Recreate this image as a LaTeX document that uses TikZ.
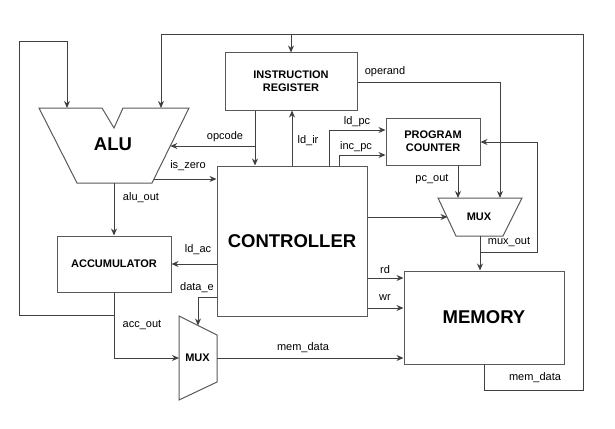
\documentclass[tikz,border=0pt]{standalone}
\usepackage{fontspec}
\setmainfont{Liberation Sans}
\usetikzlibrary{arrows.meta}
\tikzset{
  wire/.style={line width=1pt, draw=black!75},
  arr/.style={wire, -{Stealth[length=7pt,width=6pt]}},
  bloque/.style={draw=black!65, line width=1pt, fill=white, align=center,
    font=\fontsize{11}{13}\selectfont\bfseries},
  lbl/.style={font=\fontsize{11}{13}\selectfont, inner sep=0pt},
  grande/.style={font=\fontsize{18.5}{20}\selectfont\bfseries, inner sep=0pt},
  chico/.style={font=\fontsize{11}{13}\selectfont\bfseries, inner sep=0pt},
}
\begin{document}
\begin{tikzpicture}[x=1pt, y=-1pt]
\useasboundingbox (0,0) rectangle (615,428);

% Bloques rectangulares
\node[bloque, minimum width=132pt, minimum height=57pt] (ir) at (291,81.5) {INSTRUCTION\\REGISTER};
\node[bloque, minimum width=94pt, minimum height=47pt] (pc) at (433,141.5) {PROGRAM\\COUNTER};
\node[bloque, minimum width=150pt, minimum height=150pt] (ctrl) at (292,241) {};
\node[grande] at (ctrl.center) {CONTROLLER};
\node[bloque, minimum width=114pt, minimum height=56pt] (acc) at (114,264) {ACCUMULATOR};
\node[bloque, minimum width=160pt, minimum height=93pt] (mem) at (484,317.5) {};
\node[grande] at (mem.center) {MEMORY};

% ALU con muesca
\draw[draw=black!65, line width=1pt] (39,108) -- (102,108) -- (114,128) -- (123,108) -- (189,108)
  -- (152,183) -- (77,183) -- cycle;
\node[grande] (alu) at (113,144) {ALU};
\coordinate (alu-a) at (67,108);
\coordinate (alu-b) at (161,108);
\coordinate (alu-op) at (170.3,146);
\coordinate (alu-z) at (154,179);
\coordinate (alu-out) at (114,183);

% MUX superior
\draw[draw=black!65, line width=1pt] (438,198) -- (522,198) -- (503,236) -- (456,236) -- cycle;
\node[chico] (mux2) at (479,217) {MUX};
\coordinate (mux2-a) at (458,198);
\coordinate (mux2-b) at (500,198);
\coordinate (mux2-s) at (447.5,217);
\coordinate (mux2-o) at (480,236);

% MUX inferior
\draw[draw=black!65, line width=1pt] (179,316) -- (217,335) -- (217,382) -- (179,400) -- cycle;
\node[chico] (mux1) at (197.5,358) {MUX};
\coordinate (mux1-a) at (179,358);
\coordinate (mux1-s) at (198,325.5);
\coordinate (mux1-o) at (217,358);

% Bus de datos de memoria y realimentaciones
\draw[arr] (mem.south) -- ++(0,26) -| (583,35) -| (alu-b);
\draw[arr] (ir.north |- 0,35) -- (ir.north);
\draw[arr] (acc.south) -- ++(0,23) -| (19,42) -| (alu-a);
\draw[arr] (acc.south) |- (mux1-a);
\draw[arr] (mux1-o) -- (mem.west |- mux1-o);

% ALU y acumulador
\draw[arr] (alu-out) -- (acc.north);
\draw[arr] (alu-z) -- (ctrl.west |- alu-z);
\draw[arr] (acc.east -| ctrl.west) -- (acc.east);
\draw[arr] (ctrl.west |- 0,297) -| (mux1-s);

% Registro de instruccion
\coordinate (op-j) at (255,146);
\draw[arr] (ir.south -| op-j) -- (ctrl.north -| op-j);
\draw[arr] (op-j) -- (alu-op);
\draw[arr] (ctrl.north) -- (ctrl.north |- ir.south);
\draw[arr] (ir.east |- 0,82) -| (mux2-b);

% Contador de programa
\draw[arr] (ctrl.north -| 329,0) |- (pc.west |- 0,130);
\draw[arr] (ctrl.north -| 339,0) |- (pc.west |- 0,155);
\draw[arr] (pc.south -| mux2-a) -- (mux2-a);
\draw[arr] (ctrl.east |- mux2-s) -- (mux2-s);
\draw[arr] (mux2-o) -- (mux2-o |- mem.north);
\draw[arr] (mux2-o) -- ++(0,16) -| (537,142) -- (pc.east |- 0,142);

% Lectura y escritura
\draw[arr] (ctrl.east |- 0,278) -- (mem.west |- 0,278);
\draw[arr] (ctrl.east |- 0,308) -- (mem.west |- 0,308);

% Etiquetas
\node[lbl] at (225,137) {opcode};
\node[lbl] at (188,166) {is\_zero};
\node[lbl] at (141,198) {alu\_out};
\node[lbl] at (198,250) {ld\_ac};
\node[lbl] at (197,288) {data\_e};
\node[lbl] at (142,325) {acc\_out};
\node[lbl] at (303,348) {mem\_data};
\node[lbl] at (308,141) {ld\_ir};
\node[lbl] at (385,72) {operand};
\node[lbl] at (357,122) {ld\_pc};
\node[lbl] at (356,147) {inc\_pc};
\node[lbl] at (432,179) {pc\_out};
\node[lbl] at (509,242) {mux\_out};
\node[lbl] at (385,270) {rd};
\node[lbl] at (385,298) {wr};
\node[lbl] at (535,378) {mem\_data};
\end{tikzpicture}
\end{document}
